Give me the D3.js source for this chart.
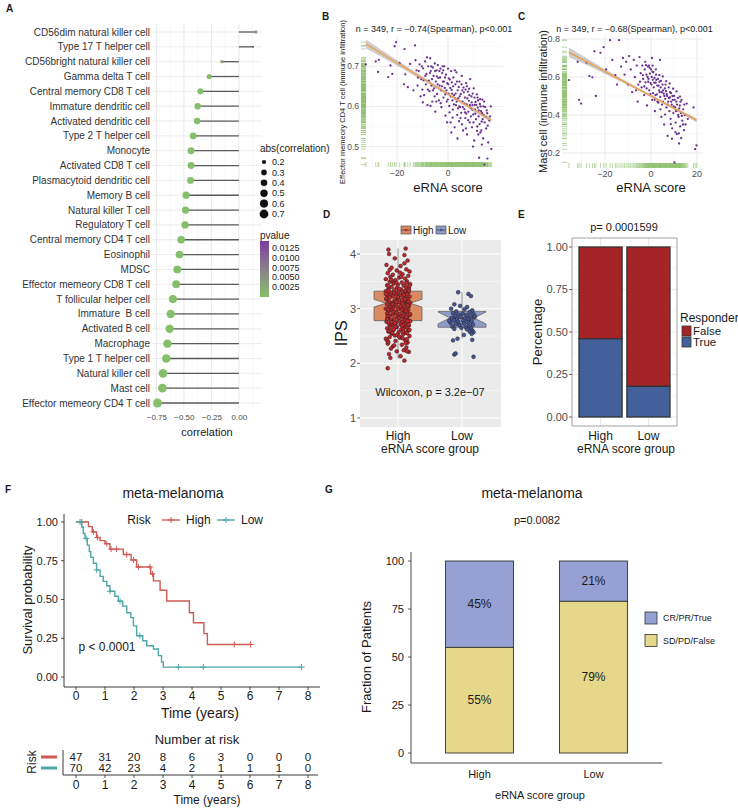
<!DOCTYPE html>
<html><head><meta charset="utf-8">
<script src="https://cdn.jsdelivr.net/npm/d3@7"></script>
<style>
body{margin:0;background:#fff}
svg{font-family:"Liberation Sans",Arial,Helvetica,sans-serif}
</style></head><body>
<svg id="fig" width="738" height="808"></svg>
<script>
// ---------------- data ----------------
var cells = ["CD56dim natural killer cell","Type 17 T helper cell","CD56bright natural killer cell","Gamma delta T cell",
  "Central memory CD8 T cell","Immature dendritic cell","Activated dendritic cell","Type 2 T helper cell","Monocyte",
  "Activated CD8 T cell","Plasmacytoid dendritic cell","Memory B cell","Natural killer T cell","Regulatory T cell",
  "Central memory CD4 T cell","Eosinophil","MDSC","Effector memeory CD8 T cell","T follicular helper cell",
  "Immature  B cell","Activated B cell","Macrophage","Type 1 T helper cell","Natural killer cell","Mast cell",
  "Effector memeory CD4 T cell"];
var corrValues = [0.155,0.13,-0.155,-0.27,-0.35,-0.375,-0.38,-0.415,-0.435,-0.435,-0.44,-0.48,-0.485,-0.49,
  -0.525,-0.54,-0.56,-0.57,-0.60,-0.62,-0.63,-0.65,-0.66,-0.69,-0.695,-0.74];
var pValues = [0.0038,0.0142,0.0036,0.0002,1e-6,1e-6,1e-6,1e-7,1e-7,1e-7,1e-7,1e-8,1e-8,1e-8,1e-9,1e-9,1e-9,
  1e-9,1e-10,1e-10,1e-10,1e-10,1e-10,1e-10,1e-10,1e-10];
var sizeLegend = [0.2,0.3,0.4,0.5,0.6,0.7];
var pLegend = [0.0025,0.005,0.0075,0.01,0.0125];

// panel B : eRNA score vs effector memory CD4 T cell
var bStats = "n = 349, r = \u22120.74(Spearman), p<0.001";
var bFit = [0.631, -0.003866];   // intercept, slope
var bPoints = [[-32.3,0.705],[-28.4,0.712],[-27.2,0.716],[-27.5,0.686],[-23.5,0.673],[-22.6,0.702],[-21.9,0.681],
[-21.0,0.750],[-20.4,0.760],[-19.0,0.708],[-17.1,0.743],[-16.8,0.680],[-17.3,0.655],[-15.8,0.648],[-14.9,0.706],
[-13.0,0.752],[-13.6,0.640],[-12.4,0.690],[-11.8,0.672],[-11.2,0.705],
[-10.5,0.668],[-10.1,0.642],[-9.8,0.695],[-9.4,0.628],[-9.0,0.712],[-8.7,0.655],[-8.5,0.681],[-8.1,0.603],[-7.8,0.700],
[-7.6,0.664],[-7.3,0.638],[-7.0,0.720],[-6.8,0.688],[-6.5,0.652],[-6.2,0.612],[-6.0,0.697],[-5.7,0.676],[-5.5,0.645],
[-5.2,0.707],[-5.0,0.587],[-4.8,0.662],[-4.5,0.690],[-4.3,0.631],[-4.0,0.703],[-3.8,0.671],[-3.6,0.615],[-3.3,0.652],
[-3.0,0.694],[-2.8,0.640],[-2.6,0.598],[-2.3,0.683],[-2.0,0.662],[-1.8,0.622],[-1.5,0.700],[-1.3,0.646],[-1.0,0.577],
[-0.8,0.679],[-0.5,0.612],[-0.3,0.658],[0.0,0.694],[0.2,0.632],[0.5,0.601],[0.7,0.667],[1.0,0.560],[1.2,0.688],
[1.4,0.641],[1.7,0.615],[1.9,0.592],[2.1,0.672],[2.4,0.628],[2.6,0.548],[2.9,0.655],[3.1,0.603],[3.3,0.685],[3.6,0.579],
[3.8,0.640],[4.0,0.620],[4.3,0.563],[4.5,0.662],[4.7,0.598],[5.0,0.631],[5.2,0.584],[5.4,0.676],[5.7,0.612],[5.9,0.540],
[6.1,0.647],[6.4,0.593],[6.6,0.622],[6.8,0.571],[7.1,0.658],[7.3,0.605],[7.5,0.530],[7.8,0.637],[8.0,0.587],[8.2,0.614],
[8.5,0.560],[8.7,0.668],[8.9,0.596],[9.2,0.625],[9.4,0.548],[9.6,0.603],[9.9,0.580],[10.1,0.645],[10.3,0.515],
[10.6,0.592],[10.8,0.611],[11.0,0.568],[11.3,0.630],[11.5,0.550],[11.7,0.597],[12.0,0.575],[12.2,0.472],[12.5,0.606],
[12.7,0.535],[13.0,0.588],[13.2,0.562],[13.5,0.617],[13.8,0.520],[14.0,0.578],[14.3,0.455],[14.6,0.598],[15.0,0.545],
[15.4,0.583],[15.8,0.510],[16.2,0.565],[17.0,0.494],
[-9.9,0.610],[-8.9,0.676],[-7.9,0.642],[-6.9,0.601],[-6.3,0.668],[-5.3,0.625],[-4.6,0.612],[-4.1,0.655],[-3.4,0.688],
[-2.9,0.608],[-2.4,0.650],[-1.9,0.690],[-1.6,0.662],[-1.1,0.630],[-0.6,0.640],[-0.1,0.617],[0.3,0.670],[0.6,0.585],
[1.1,0.625],[1.5,0.660],[1.8,0.572],[2.3,0.605],[2.7,0.690],[3.0,0.632],[3.4,0.612],[3.9,0.595],[4.2,0.648],[4.6,0.625],
[4.9,0.571],[5.3,0.655],[5.8,0.598],[6.2,0.635],[6.5,0.607],[6.9,0.642],[7.2,0.582],[7.6,0.620],[7.9,0.566],[8.3,0.644],
[8.6,0.603],[9.0,0.575],[9.3,0.610],[9.7,0.632],[10.0,0.560],[10.4,0.622],[10.7,0.582],[11.1,0.604],[11.4,0.539],
[11.8,0.615],[12.1,0.590],[12.4,0.556],[12.8,0.600],[13.1,0.540],[13.4,0.583],[13.9,0.600],[14.4,0.560],[14.8,0.574],
[15.2,0.590],[15.6,0.552],[16.5,0.575],[-12.8,0.715],[-12.0,0.652],[-11.5,0.688],[-10.8,0.625],[-10.3,0.700],
[-9.6,0.665],[-8.3,0.722],[-7.1,0.683],[-6.6,0.700],[-5.9,0.640],[-5.1,0.688],[-4.4,0.675],[-3.1,0.672],[-2.1,0.700],
[-1.2,0.672],[0.1,0.655],[0.9,0.646],[1.6,0.632],[2.0,0.650],[2.8,0.620],[3.5,0.662],[4.4,0.600],[5.6,0.640],
[6.7,0.585],[7.4,0.650],[8.4,0.628],[9.5,0.592],[10.5,0.604],[11.6,0.622],[12.6,0.618],[13.6,0.568],[14.2,0.612],
[9.8,0.500],[11.9,0.530],[13.3,0.505],[15.5,0.470],[16.8,0.600],[3.7,0.520],[5.5,0.555],[7.0,0.545],[-0.4,0.560],[1.3,0.535]];

// panel C : eRNA score vs mast cell
var cStats = "n = 349, r = \u22120.68(Spearman), p<0.001";
var cFit = [0.500, -0.00645];
var cPoints = [[-35.7,0.584],[-31.9,0.680],[-31.3,0.480],[-30.4,0.460],[-28.0,0.676],[-26.8,0.605],[-25.5,0.598],
[-24.6,0.735],[-24.0,0.500],[-22.0,0.727],[-20.6,0.757],[-19.5,0.640],[-17.8,0.794],[-16.8,0.690],[-15.5,0.610],
[-14.8,0.560],[-13.9,0.794],[-13.0,0.655],[-12.2,0.700],[-11.5,0.612],[-10.8,0.680],[-10.0,0.560],[-9.5,0.710],
[-8.8,0.640],[-8.2,0.520],[-7.5,0.690],[-7.0,0.600],[-6.2,0.660],[-5.8,0.470],[-5.0,0.705],
[-4.5,0.620],[-4.1,0.545],[-3.8,0.660],[-3.4,0.590],[-3.0,0.505],[-2.7,0.640],[-2.4,0.572],[-2.0,0.612],[-1.7,0.450],
[-1.4,0.655],[-1.1,0.590],[-0.8,0.530],[-0.5,0.618],[-0.2,0.568],[0.0,0.640],[0.3,0.600],[0.5,0.480],[0.8,0.585],
[1.0,0.625],[1.2,0.545],[1.5,0.595],[1.7,0.420],[2.0,0.570],[2.2,0.612],[2.5,0.508],[2.7,0.555],[3.0,0.590],[3.2,0.465],
[3.5,0.530],[3.7,0.575],[4.0,0.495],[4.2,0.545],[4.5,0.390],[4.7,0.520],[5.0,0.560],[5.2,0.470],[5.5,0.512],[5.7,0.350],
[6.0,0.540],[6.2,0.485],[6.5,0.525],[6.7,0.440],[7.0,0.500],[7.2,0.290],[7.5,0.470],[7.7,0.545],[8.0,0.420],[8.2,0.492],
[8.5,0.380],[8.7,0.515],[9.0,0.455],[9.2,0.330],[9.5,0.480],[9.7,0.410],[10.0,0.500],[10.2,0.150],[10.5,0.440],
[10.7,0.360],[11.0,0.470],[11.2,0.300],[11.5,0.425],[11.7,0.490],[12.0,0.390],[12.2,0.250],[12.5,0.450],[12.7,0.340],
[13.0,0.410],[13.3,0.480],[13.6,0.370],[14.0,0.430],[14.3,0.320],[14.7,0.400],[15.0,0.350],[15.5,0.460],[16.0,0.380],
[18.5,0.440],[19.2,0.220],[19.8,0.240],
[-4.8,0.575],[-3.6,0.610],[-2.9,0.550],[-2.2,0.662],[-1.9,0.540],[-1.2,0.575],[-0.6,0.648],[-0.3,0.510],[0.2,0.560],
[0.6,0.628],[0.9,0.515],[1.4,0.570],[1.9,0.505],[2.3,0.585],[2.8,0.470],[3.3,0.555],[3.8,0.520],[4.3,0.580],[4.8,0.455],
[5.3,0.530],[5.8,0.500],[6.3,0.560],[6.8,0.510],[7.3,0.455],[7.8,0.490],[8.3,0.520],[8.8,0.470],[9.3,0.500],[9.8,0.445],
[10.3,0.480],[10.8,0.420],[11.3,0.455],[11.8,0.400],[12.3,0.435],[12.8,0.470],[13.4,0.395],[13.9,0.350],[14.5,0.455],
[-1.5,0.600],[0.7,0.660],[2.1,0.640],[3.6,0.610],[5.1,0.603],[6.6,0.578],[8.1,0.566],[9.6,0.538],[11.1,0.524],
[12.6,0.497],[1.6,0.480],[4.1,0.430],[6.1,0.402],[8.6,0.352],[10.6,0.310],[12.1,0.303],[13.1,0.278],[9.1,0.275],
[-0.9,0.660],[-2.5,0.680],[0.4,0.700],[3.9,0.690],[-5.5,0.560],[-6.5,0.530]];

// panel D : IPS by eRNA score group
var groups = ["High","Low"];
var boxLow = [2.08,2.45], boxQ1 = [2.78,2.66], boxMed = [3.10,2.83], boxQ3 = [3.32,2.95], boxHigh = [4.10,3.30];
var notchLow = [3.03,2.72], notchHigh = [3.17,2.94];
var ipsHigh = [[-0.15,4.08],[0.12,4.10],[-0.14,4.00],[0.1,3.98],[-0.05,3.92],[0.15,3.88],[-0.18,3.80],[0.04,3.78],
[-0.1,3.75],[0.13,3.72],[-0.02,3.70],[0.18,3.68],[-0.16,3.65],[0.07,3.63],[-0.08,3.62],[0.16,3.60],[-0.12,3.58],
[0.02,3.57],[0.11,3.55],[-0.19,3.54],[-0.04,3.52],[0.14,3.50],[-0.13,3.49],[0.06,3.48],[-0.07,3.46],[0.19,3.45],
[0.0,3.44],[-0.17,3.43],[0.09,3.42],[-0.1,3.40],[0.13,3.39],[-0.02,3.38],[0.17,3.37],[-0.15,3.36],[0.05,3.35],
[-0.06,3.34],[0.11,3.33],[-0.19,3.32],[0.01,3.31],[0.16,3.30],[-0.11,3.29],[0.08,3.28],[-0.03,3.27],[0.14,3.26],
[-0.16,3.25],[0.03,3.24],[-0.08,3.23],[0.18,3.22],[-0.13,3.21],[0.1,3.20],[-0.01,3.19],[0.15,3.18],[-0.18,3.17],
[0.06,3.16],[-0.05,3.15],[0.12,3.14],[-0.14,3.13],[0.02,3.12],[0.19,3.11],[-0.09,3.10],[0.07,3.09],[-0.17,3.08],
[0.13,3.07],[-0.03,3.06],[0.17,3.05],[-0.12,3.04],[0.04,3.03],[-0.07,3.02],[0.1,3.01],[-0.19,3.00],[0.0,2.99],
[0.16,2.98],[-0.1,2.97],[0.08,2.96],[-0.15,2.95],[0.14,2.94],[-0.04,2.93],[0.11,2.92],[-0.17,2.91],[0.03,2.90],
[-0.08,2.89],[0.18,2.88],[-0.13,2.87],[0.06,2.86],[-0.01,2.85],[0.13,2.84],[-0.16,2.83],[0.09,2.82],[-0.06,2.81],
[0.15,2.80],[-0.11,2.79],[0.02,2.78],[0.19,2.77],[-0.18,2.76],[0.07,2.75],[-0.03,2.74],[0.12,2.73],[-0.14,2.72],
[0.04,2.71],[-0.09,2.70],[0.17,2.69],[-0.12,2.68],[0.1,2.67],[-0.02,2.66],[0.14,2.65],[-0.17,2.64],[0.05,2.62],
[-0.07,2.61],[0.16,2.60],[-0.15,2.58],[0.01,2.57],[0.12,2.56],[-0.1,2.54],[0.08,2.53],[-0.05,2.51],[0.18,2.50],
[-0.13,2.48],[0.03,2.47],[-0.19,2.45],[0.11,2.43],[-0.04,2.41],[0.15,2.38],[-0.16,2.36],[0.06,2.34],[-0.08,2.31],
[0.13,2.29],[-0.11,2.27],[0.09,2.24],[-0.02,2.22],[0.17,2.21],[-0.14,2.17],[0.04,2.13],[-0.12,2.10],[0.1,2.05],
[-0.16,1.91],[0.14,2.22],
[0.05,3.58],[-0.09,3.51],[0.13,3.47],[-0.15,3.41],[0.02,3.36],[0.17,3.33],[-0.06,3.29],[0.09,3.25],[-0.18,3.19],
[0.12,3.15],[-0.03,3.12],[0.15,3.06],[-0.12,3.03],[0.06,2.98],[-0.07,2.94],[0.19,2.90],[-0.16,2.86],[0.01,2.83],
[0.11,2.79],[-0.1,2.75],[0.16,2.71],[-0.04,2.67],[0.08,2.63],[-0.14,2.59],[0.14,2.55],[-0.01,2.52],[0.07,2.46],
[-0.17,2.42],[0.12,2.37],[-0.06,2.33],[0.03,3.66],[-0.13,3.71],[0.1,3.83],[-0.11,3.53],[0.18,3.42],[-0.19,3.27],
[0.0,3.21],[0.16,3.13],[-0.08,3.08],[0.04,3.04],[-0.15,2.99],[0.12,2.96],[-0.02,2.92],[0.09,2.88],[-0.17,2.81],
[0.15,2.77],[-0.05,2.73],[0.06,2.69],[-0.12,2.65],[0.18,2.61],[-0.09,2.56],[0.02,2.49],[0.14,2.44],[-0.15,2.39],
[0.08,2.58],[-0.03,3.47],[0.11,3.17],[-0.14,3.33],[0.13,2.85],[-0.07,2.62]];
var ipsLow = [[-0.06,3.30],[0.1,3.27],[0.14,3.23],[-0.12,3.08],[-0.03,3.05],[0.08,3.03],[-0.17,3.00],[0.04,2.99],
[0.16,2.97],[-0.09,2.95],[0.12,2.94],[-0.14,2.92],[0.01,2.91],[0.18,2.90],[-0.05,2.89],[0.07,2.88],[-0.11,2.87],
[0.13,2.86],[-0.02,2.85],[0.19,2.84],[-0.16,2.83],[0.05,2.82],[-0.08,2.81],[0.1,2.80],[-0.13,2.79],[0.02,2.78],
[0.15,2.77],[-0.06,2.76],[0.09,2.75],[-0.18,2.74],[0.03,2.73],[-0.1,2.72],[0.17,2.71],[-0.04,2.70],[0.11,2.69],
[-0.15,2.67],[0.06,2.66],[-0.01,2.65],[0.14,2.64],[-0.12,2.63],[0.08,2.62],[0.16,2.60],[0.12,2.58],[0.18,2.57],
[-0.07,2.45],[0.15,2.54],[0.03,2.52],[-0.14,2.42],[0.16,2.43],[-0.12,2.16],[-0.1,2.18],[0.18,2.12],[-0.2,2.78],[0.2,2.86]];
var dTest = "Wilcoxon, p = 3.2e\u221207";

// panel E : responder fraction
var respTrue = [0.46, 0.18];
var eTest = "p= 0.0001599";

// panel F : Kaplan-Meier meta-melanoma
var kmHighT = [0,0.43,0.56,0.71,0.83,1.0,1.17,1.63,1.9,2.09,2.58,2.67,2.9,3.13,3.91,4.05,4.41,4.53,6.02];
var kmHighS = [1,0.97,0.936,0.90,0.88,0.86,0.825,0.79,0.755,0.71,0.665,0.62,0.56,0.49,0.415,0.35,0.28,0.21,0.21];
var kmHighCens = [0.2,0.6,0.74,1.06,1.21,1.4,1.75,1.98,2.15,2.55,2.64,5.46,6.02];
var kmLowT = [0,0.2,0.25,0.31,0.39,0.46,0.51,0.6,0.71,0.83,0.94,1.06,1.17,1.34,1.46,1.61,1.75,1.89,1.98,2.09,2.3,
  2.44,2.67,2.84,2.95,3.01,7.78];
var kmLowS = [1,0.968,0.926,0.894,0.851,0.809,0.772,0.734,0.691,0.649,0.617,0.589,0.553,0.521,0.489,0.457,0.415,
  0.383,0.33,0.266,0.234,0.202,0.181,0.138,0.096,0.064,0.064];
var kmLowCens = [0.14,0.35,0.71,1.17,1.52,2.2,3.53,4.39,7.78];
var riskTimes = [0,1,2,3,4,5,6,7,8];
var riskHigh = [47,31,20,8,6,3,0,0,0];
var riskLow = [70,42,23,4,2,1,1,1,0];

// panel G : response fraction
var gResp = [45, 21];
var gNonResp = [55, 79];
var gTest = "p=0.0082";

// ---------------- helpers ----------------
var svg = d3.select("#fig");
var INK = "#1a1a1a", GREY = "#4d4d4d";

function txt(g, x, y, s, o) {
  o = o || {};
  var el = g.append("text").attr("x", x).attr("y", y).attr("dy", "0.35em")
    .attr("font-size", o.size || 10).attr("text-anchor", o.anchor || "middle")
    .attr("fill", o.fill || INK).text(s);
  if (o.bold) el.attr("font-weight", "bold");
  if (o.rot) el.attr("transform", "rotate(-90," + x + "," + y + ")");
  return el;
}
function minorOf(ticks, dom) {
  var step = ticks[1] - ticks[0], out = [];
  for (var v = ticks[0] - step * 2.5; v <= ticks[ticks.length - 1] + step * 2.5; v += step)
    if (v >= Math.min(dom[0], dom[1]) && v <= Math.max(dom[0], dom[1])) out.push(v);
  return out;
}

// panel letters
[["A",6,8],["B",322,16],["C",518,16],["D",323,214],["E",518,214],["F",5,489],["G",325,489]].forEach(function (l) {
  txt(svg, l[1], l[2], l[0], {size: 10, bold: true, anchor: "start"});
});

// ---------------- A : lollipop ----------------
(function () {
  var g = svg.append("g");
  var x = d3.scaleLinear().domain([-0.79, 0.21]).range([152, 262]);
  var y = d3.scalePoint().domain(cells).range([32, 403]);
  var maj = [-0.75, -0.5, -0.25, 0];
  var absv = corrValues.map(Math.abs);
  var norm = d3.scaleLinear().domain(d3.extent(absv)).range([0, 1]).clamp(true);
  var rad = d3.scaleLinear().domain([0, 1]).range([0.9, 4.5]);
  var sizeOf = function (a) { return rad(Math.sqrt(norm(a))); };
  var pCol = d3.scaleLinear().domain([0, 0.0142]).range(["#86bf6b", "#7a3b9e"]).interpolate(d3.interpolateLab);

  g.selectAll(".mn").data(minorOf(maj, x.domain())).enter().append("line")
    .attr("x1", x).attr("x2", x).attr("y1", 24).attr("y2", 410).attr("stroke", "#f2f2f2").attr("stroke-width", 0.6);
  g.selectAll(".mj").data(maj).enter().append("line")
    .attr("x1", x).attr("x2", x).attr("y1", 24).attr("y2", 410).attr("stroke", "#e5e5e5").attr("stroke-width", 0.8);
  g.selectAll(".hg").data(cells).enter().append("line")
    .attr("x1", 152).attr("x2", 262).attr("y1", y).attr("y2", y).attr("stroke", "#e8e8e8").attr("stroke-width", 0.8);

  g.selectAll(".seg").data(cells).enter().append("line")
    .attr("x1", x(0)).attr("x2", function (d, i) { return x(corrValues[i]); })
    .attr("y1", y).attr("y2", y).attr("stroke", "#5a5a5a").attr("stroke-width", 1.3);
  g.selectAll(".dot").data(cells).enter().append("circle")
    .attr("cx", function (d, i) { return x(corrValues[i]); }).attr("cy", y)
    .attr("r", function (d, i) { return sizeOf(absv[i]); })
    .attr("fill", function (d, i) { return pCol(pValues[i]); });

  g.selectAll(".lab").data(cells).enter().append("text")
    .attr("x", 150).attr("y", y).attr("dy", "0.35em").attr("text-anchor", "end")
    .attr("font-size", 10).attr("fill", "#333").style("white-space", "pre").text(function (d) { return d; });

  var ax = g.append("g").attr("transform", "translate(0,411)")
    .call(d3.axisBottom(x).tickValues(maj).tickSize(0).tickFormat(d3.format(".2f")));
  ax.select(".domain").remove();
  ax.selectAll("text").attr("font-size", 8).attr("fill", GREY).attr("font-family", null);
  txt(g, x(-0.29), 432, "correlation", {size: 11});

  // legends
  txt(g, 260, 148, "abs(correlation)", {size: 10, anchor: "start"});
  var ly = d3.scalePoint().domain(sizeLegend).range([162, 214]);
  g.selectAll(".ld").data(sizeLegend).enter().append("circle")
    .attr("cx", 264).attr("cy", ly).attr("r", sizeOf).attr("fill", "#111");
  g.selectAll(".lt").data(sizeLegend).enter().append("text")
    .attr("x", 272).attr("y", ly).attr("dy", "0.35em").attr("font-size", 9).attr("fill", INK)
    .text(function (d) { return d.toFixed(1); });

  txt(g, 260, 235, "pvalue", {size: 10, anchor: "start"});
  var pb = d3.scaleLinear().domain([0, 0.0142]).range([297, 241]);
  var grad = svg.append("defs").append("linearGradient").attr("id", "pgrad")
    .attr("x1", 0).attr("y1", 1).attr("x2", 0).attr("y2", 0);
  d3.range(0, 1.01, 0.1).forEach(function (f) {
    grad.append("stop").attr("offset", f).attr("stop-color", pCol(f * 0.0142));
  });
  g.append("rect").attr("x", 260).attr("y", pb(0.0142)).attr("width", 9).attr("height", pb(0) - pb(0.0142))
    .attr("fill", "url(#pgrad)");
  g.selectAll(".pt").data(pLegend).enter().append("text")
    .attr("x", 272).attr("y", pb).attr("dy", "0.35em").attr("font-size", 9).attr("fill", INK)
    .text(d3.format(".4f"));
})();

// ---------------- B & C : scatter with fit ----------------
function scatterPanel(pts, fit, cfg) {
  var g = svg.append("g");
  var x = d3.scaleLinear().domain(cfg.xDom).range([cfg.x0, cfg.x1]);
  var y = d3.scaleLinear().domain(cfg.yDom).range([cfg.y1, cfg.y0]);
  g.selectAll(".xm").data(minorOf(cfg.xTicks, cfg.xDom)).enter().append("line")
    .attr("x1", x).attr("x2", x).attr("y1", cfg.y0).attr("y2", cfg.y1).attr("stroke", "#f3f3f3").attr("stroke-width", 0.6);
  g.selectAll(".ym").data(minorOf(cfg.yTicks, cfg.yDom)).enter().append("line")
    .attr("y1", y).attr("y2", y).attr("x1", cfg.x0).attr("x2", cfg.x1).attr("stroke", "#f3f3f3").attr("stroke-width", 0.6);
  g.selectAll(".xg").data(cfg.xTicks).enter().append("line")
    .attr("x1", x).attr("x2", x).attr("y1", cfg.y0).attr("y2", cfg.y1).attr("stroke", "#e6e6e6").attr("stroke-width", 0.8);
  g.selectAll(".yg").data(cfg.yTicks).enter().append("line")
    .attr("y1", y).attr("y2", y).attr("x1", cfg.x0).attr("x2", cfg.x1).attr("stroke", "#e6e6e6").attr("stroke-width", 0.8);

  // rugs
  g.selectAll(".ry").data(pts).enter().append("line")
    .attr("x1", cfg.x0).attr("x2", cfg.x0 + 5).attr("y1", function (d) { return y(d[1]); })
    .attr("y2", function (d) { return y(d[1]); }).attr("stroke", "#8cc06a").attr("stroke-width", 0.6);
  g.selectAll(".rx").data(pts).enter().append("line")
    .attr("y1", cfg.y1).attr("y2", cfg.y1 - 5).attr("x1", function (d) { return x(d[0]); })
    .attr("x2", function (d) { return x(d[0]); }).attr("stroke", "#8cc06a").attr("stroke-width", 0.6);

  // fit band + line
  var xr = d3.extent(pts, function (d) { return d[0]; });
  var xm = d3.mean(pts, function (d) { return d[0]; });
  var xs = d3.range(xr[0], xr[1] + 0.01, (xr[1] - xr[0]) / 40);
  var yfit = function (v) { return fit[0] + fit[1] * v; };
  var hw = function (v) { return cfg.band[0] + cfg.band[1] * (v - xm) * (v - xm); };
  g.append("path").datum(xs).attr("fill", "#a6a6a6").attr("opacity", 0.55)
    .attr("d", d3.area().x(function (v) { return x(v); })
      .y0(function (v) { return y(yfit(v) - hw(v)); }).y1(function (v) { return y(yfit(v) + hw(v)); }));

  g.selectAll(".pt").data(pts).enter().append("circle")
    .attr("cx", function (d) { return x(d[0]); }).attr("cy", function (d) { return y(d[1]); })
    .attr("r", 1.15).attr("fill", "#6a2f8f");

  g.append("line").attr("x1", x(xr[0])).attr("x2", x(xr[1])).attr("y1", y(yfit(xr[0]))).attr("y2", y(yfit(xr[1])))
    .attr("stroke", "#e9a35c").attr("stroke-width", 1.6);

  g.selectAll(".xl").data(cfg.xTicks).enter().append("text")
    .attr("x", x).attr("y", cfg.y1 + 6).attr("dy", "0.35em").attr("text-anchor", "middle")
    .attr("font-size", cfg.tickSize).attr("fill", GREY).text(d3.format("d"));
  g.selectAll(".yl").data(cfg.yTicks).enter().append("text")
    .attr("x", cfg.x0 - 2).attr("y", y).attr("dy", "0.35em").attr("text-anchor", "end")
    .attr("font-size", cfg.tickSize).attr("fill", GREY).text(d3.format(".1f"));

  txt(g, (cfg.x0 + cfg.x1) / 2 + 2, 29, cfg.title, {size: 9});
  txt(g, x(0), 187, "eRNA score", {size: 13});
  txt(g, cfg.yTitleX, (cfg.y0 + cfg.y1) / 2, cfg.yTitle, {size: cfg.yTitleSize, rot: true});
}

scatterPanel(bPoints, bFit, {
  xDom: [-34.2, 21.6], yDom: [0.449, 0.773], x0: 361, x1: 503, y0: 37, y1: 167,
  xTicks: [-20, 0], yTicks: [0.5, 0.6, 0.7], band: [0.004, 0.0000062], tickSize: 8.5,
  title: bStats, yTitle: "Effector memeory CD4 T cell (immune infiltration)", yTitleX: 342, yTitleSize: 7.5
});
scatterPanel(cPoints, cFit, {
  xDom: [-38.7, 22.6], yDom: [0.121, 0.821], x0: 562, x1: 703, y0: 35, y1: 168,
  xTicks: [-20, 0, 20], yTicks: [0.2, 0.4, 0.6, 0.8], band: [0.006, 0.000014], tickSize: 9,
  title: cStats, yTitle: "Mast cell (immune infiltration)", yTitleX: 543, yTitleSize: 11
});

// ---------------- D : notched boxplot ----------------
(function () {
  var g = svg.append("g");
  var x = d3.scalePoint().domain(groups).range([398, 462]);
  var y = d3.scaleLinear().domain([0.835, 4.256]).range([427, 240]);
  var step = x.step(), bw = step * 0.75;
  var fills = ["#d98a60", "#8e9cc6"], dots = ["#c1282d", "#40599c"];
  g.append("rect").attr("x", 360).attr("y", 240).attr("width", 141).attr("height", 187).attr("fill", "#ebebeb");
  g.selectAll(".ym").data([1.5, 2.5, 3.5]).enter().append("line")
    .attr("x1", 360).attr("x2", 501).attr("y1", y).attr("y2", y).attr("stroke", "#fff").attr("stroke-width", 0.5);
  g.selectAll(".yg").data([1, 2, 3, 4]).enter().append("line")
    .attr("x1", 360).attr("x2", 501).attr("y1", y).attr("y2", y).attr("stroke", "#fff").attr("stroke-width", 1);
  g.selectAll(".xg").data(groups).enter().append("line")
    .attr("x1", x).attr("x2", x).attr("y1", 240).attr("y2", 427).attr("stroke", "#fff").attr("stroke-width", 1);

  groups.forEach(function (grp, i) {
    var cx = x(grp), L = cx - bw / 2, R = cx + bw / 2, ind = bw / 4;
    g.append("line").attr("x1", cx).attr("x2", cx).attr("y1", y(boxHigh[i])).attr("y2", y(boxLow[i]))
      .attr("stroke", "#777").attr("stroke-width", 0.8);
    var poly = [[L, y(boxQ3[i])], [R, y(boxQ3[i])], [R, y(notchHigh[i])], [R - ind, y(boxMed[i])], [R, y(notchLow[i])],
      [R, y(boxQ1[i])], [L, y(boxQ1[i])], [L, y(notchLow[i])], [L + ind, y(boxMed[i])], [L, y(notchHigh[i])]];
    g.append("polygon").attr("points", poly.map(function (p) { return p.join(","); }).join(" "))
      .attr("fill", fills[i]).attr("stroke", "#666").attr("stroke-width", 0.8);
    g.append("line").attr("x1", L + ind).attr("x2", R - ind).attr("y1", y(boxMed[i])).attr("y2", y(boxMed[i]))
      .attr("stroke", "#555").attr("stroke-width", 1.2);
  });
  [ipsHigh, ipsLow].forEach(function (arr, i) {
    g.selectAll(".j" + i).data(arr).enter().append("circle")
      .attr("cx", function (d) { return x(groups[i]) + d[0] * step; }).attr("cy", function (d) { return y(d[1]); })
      .attr("r", 1.9).attr("fill", dots[i]).attr("stroke", "#2a1a1a").attr("stroke-width", 0.5);
  });

  g.selectAll(".tk").data([1, 2, 3, 4]).enter().append("line")
    .attr("x1", 357).attr("x2", 360).attr("y1", y).attr("y2", y).attr("stroke", "#333").attr("stroke-width", 0.7);
  g.selectAll(".yl").data([1, 2, 3, 4]).enter().append("text")
    .attr("x", 356).attr("y", y).attr("dy", "0.35em").attr("text-anchor", "end")
    .attr("font-size", 11).attr("fill", GREY).text(function (d) { return d; });
  txt(g, 341, y(2.55), "IPS", {size: 16, rot: true});
  txt(g, 430, 392, dTest, {size: 11});
  groups.forEach(function (grp) { txt(g, x(grp), 436, grp, {size: 12}); });
  txt(g, 430, 449, "eRNA score group", {size: 12});

  // legend
  [[401, "High"], [436, "Low"]].forEach(function (l, i) {
    g.append("rect").attr("x", l[0]).attr("y", 226).attr("width", 10).attr("height", 8)
      .attr("fill", fills[i]).attr("stroke", "#555").attr("stroke-width", 0.7);
    g.append("line").attr("x1", l[0]).attr("x2", l[0] + 10).attr("y1", 230).attr("y2", 230).attr("stroke", "#555");
    g.append("circle").attr("cx", l[0] + 5).attr("cy", 230).attr("r", 1.3).attr("fill", dots[i]);
    txt(g, l[0] + 12, 230, l[1], {size: 10, anchor: "start"});
  });
})();

// ---------------- E : stacked percentage bars ----------------
(function () {
  var g = svg.append("g");
  var x = d3.scaleBand().domain(groups).range([579, 670]).paddingInner(0.1);
  var y = d3.scaleLinear().domain([0, 1]).range([417, 247]);
  g.selectAll(".ym").data([0.125, 0.375, 0.625, 0.875]).enter().append("line")
    .attr("x1", 572).attr("x2", 677).attr("y1", y).attr("y2", y).attr("stroke", "#f2f2f2").attr("stroke-width", 0.6);
  g.selectAll(".yg").data([0, 0.25, 0.5, 0.75, 1]).enter().append("line")
    .attr("x1", 572).attr("x2", 677).attr("y1", y).attr("y2", y).attr("stroke", "#e3e3e3").attr("stroke-width", 0.8);
  g.selectAll(".xg").data(groups).enter().append("line")
    .attr("x1", function (d) { return x(d) + x.bandwidth() / 2; }).attr("x2", function (d) { return x(d) + x.bandwidth() / 2; })
    .attr("y1", 238).attr("y2", 426).attr("stroke", "#e3e3e3").attr("stroke-width", 0.8);
  g.append("rect").attr("x", 572).attr("y", 238).attr("width", 105).attr("height", 188)
    .attr("fill", "none").attr("stroke", "#8a8a8a").attr("stroke-width", 0.8);

  groups.forEach(function (grp, i) {
    g.append("rect").attr("x", x(grp)).attr("width", x.bandwidth()).attr("y", y(1)).attr("height", y(respTrue[i]) - y(1))
      .attr("fill", "#a52427").attr("stroke", "#333").attr("stroke-width", 1.3);
    g.append("rect").attr("x", x(grp)).attr("width", x.bandwidth()).attr("y", y(respTrue[i])).attr("height", y(0) - y(respTrue[i]))
      .attr("fill", "#44609b").attr("stroke", "#333").attr("stroke-width", 1.3);
    txt(g, x(grp) + x.bandwidth() / 2, 436, grp, {size: 12});
  });
  g.selectAll(".tk").data([0, 0.25, 0.5, 0.75, 1]).enter().append("line")
    .attr("x1", 569).attr("x2", 572).attr("y1", y).attr("y2", y).attr("stroke", "#333").attr("stroke-width", 0.7);
  g.selectAll(".yl").data([0, 0.25, 0.5, 0.75, 1]).enter().append("text")
    .attr("x", 568).attr("y", y).attr("dy", "0.35em").attr("text-anchor", "end")
    .attr("font-size", 11).attr("fill", GREY).text(d3.format(".2f"));
  txt(g, 537, y(0.5), "Percentage", {size: 13, rot: true});
  txt(g, 624, 227, eTest, {size: 11});
  txt(g, 626, 449, "eRNA score group", {size: 12});
  txt(g, 680, 318, "Responder", {size: 12, anchor: "start"});
  [["False", "#a52427"], ["True", "#44609b"]].forEach(function (l, i) {
    g.append("rect").attr("x", 682).attr("y", 326 + i * 11).attr("width", 9).attr("height", 10)
      .attr("fill", l[1]).attr("stroke", "#333").attr("stroke-width", 0.8);
    txt(g, 693, 331 + i * 11, l[0], {size: 11.5, anchor: "start"});
  });
})();

// ---------------- F : Kaplan-Meier + risk table ----------------
(function () {
  var g = svg.append("g");
  var x = d3.scaleLinear().domain([0, 8]).range([76, 308]);
  var y = d3.scaleLinear().domain([0, 1]).range([677, 522]);
  var cols = ["#cd5a53", "#4ea6a6"];
  txt(g, 173, 493, "meta-melanoma", {size: 14});

  var stepLine = d3.line().x(function (d) { return x(d[0]); }).y(function (d) { return y(d[1]); }).curve(d3.curveStepAfter);
  var survAt = function (T, S, t) { var s = S[0]; T.forEach(function (tt, k) { if (tt <= t) s = S[k]; }); return s; };
  [[kmHighT, kmHighS, kmHighCens], [kmLowT, kmLowS, kmLowCens]].forEach(function (c, i) {
    g.append("path").datum(d3.zip(c[0], c[1])).attr("d", stepLine)
      .attr("fill", "none").attr("stroke", cols[i]).attr("stroke-width", 1.4);
    c[2].forEach(function (t) {
      var px = x(t), py = y(survAt(c[0], c[1], t));
      g.append("path").attr("d", "M" + (px - 3) + "," + py + "h6M" + px + "," + (py - 3) + "v6")
        .attr("stroke", cols[i]).attr("stroke-width", 1);
    });
  });

  g.append("line").attr("x1", 64).attr("x2", 64).attr("y1", 514).attr("y2", 687).attr("stroke", "#222").attr("stroke-width", 0.9);
  g.append("line").attr("x1", 64).attr("x2", 320).attr("y1", 687).attr("y2", 687).attr("stroke", "#222").attr("stroke-width", 0.9);
  var yt = [0, 0.25, 0.5, 0.75, 1];
  g.selectAll(".ytk").data(yt).enter().append("line").attr("x1", 61).attr("x2", 64)
    .attr("y1", y).attr("y2", y).attr("stroke", "#222").attr("stroke-width", 0.8);
  g.selectAll(".ylb").data(yt).enter().append("text").attr("x", 58).attr("y", y).attr("dy", "0.35em")
    .attr("text-anchor", "end").attr("font-size", 11).attr("fill", INK).text(d3.format(".2f"));
  g.selectAll(".xtk").data(riskTimes).enter().append("line").attr("x1", x).attr("x2", x)
    .attr("y1", 687).attr("y2", 690).attr("stroke", "#222").attr("stroke-width", 0.8);
  g.selectAll(".xlb").data(riskTimes).enter().append("text").attr("x", x).attr("y", 696).attr("dy", "0.35em")
    .attr("text-anchor", "middle").attr("font-size", 12).attr("fill", INK).text(function (d) { return d; });
  txt(g, 200, 713, "Time (years)", {size: 14});
  txt(g, 27, 600, "Survival probability", {size: 13, rot: true});
  txt(g, 107, 647, "p < 0.0001", {size: 12});

  // legend
  txt(g, 139, 520, "Risk", {size: 12});
  [[162, "High"], [217, "Low"]].forEach(function (l, i) {
    g.append("line").attr("x1", l[0]).attr("x2", l[0] + 18).attr("y1", 520).attr("y2", 520).attr("stroke", cols[i]).attr("stroke-width", 1.4);
    g.append("path").attr("d", "M" + (l[0] + 6) + ",520h6M" + (l[0] + 9) + ",517v6").attr("stroke", cols[i]);
    txt(g, l[0] + 24, 520, l[1], {size: 12, anchor: "start"});
  });

  // risk table
  txt(g, 197, 739, "Number at risk", {size: 13});
  [riskHigh, riskLow].forEach(function (row, i) {
    g.selectAll(".rk" + i).data(row).enter().append("text")
      .attr("x", function (d, k) { return x(riskTimes[k]); }).attr("y", 757 + i * 11).attr("dy", "0.35em")
      .attr("text-anchor", "middle").attr("font-size", 11.5).attr("fill", INK).text(function (d) { return d; });
    g.append("line").attr("x1", 41).attr("x2", 57).attr("y1", 757 + i * 11).attr("y2", 757 + i * 11)
      .attr("stroke", cols[i]).attr("stroke-width", 3);
  });
  txt(g, 32, 762, "Risk", {size: 12, rot: true});
  g.append("line").attr("x1", 63).attr("x2", 63).attr("y1", 750).attr("y2", 775).attr("stroke", "#222").attr("stroke-width", 0.9);
  g.append("line").attr("x1", 63).attr("x2", 318).attr("y1", 775).attr("y2", 775).attr("stroke", "#222").attr("stroke-width", 0.9);
  g.selectAll(".rtk").data(riskTimes).enter().append("line").attr("x1", x).attr("x2", x)
    .attr("y1", 775).attr("y2", 778).attr("stroke", "#222").attr("stroke-width", 0.8);
  g.selectAll(".rlb").data(riskTimes).enter().append("text").attr("x", x).attr("y", 785).attr("dy", "0.35em")
    .attr("text-anchor", "middle").attr("font-size", 12).attr("fill", INK).text(function (d) { return d; });
  txt(g, 207, 800, "Time (years)", {size: 12});
})();

// ---------------- G : fraction of patients ----------------
(function () {
  var g = svg.append("g");
  var x = d3.scaleBand().domain(groups).range([411, 662]).paddingInner(0.4035).paddingOuter(0.3026);
  var y = d3.scaleLinear().domain([0, 100]).range([753, 561]);
  txt(g, 532, 493, "meta-melanoma", {size: 14});
  txt(g, 537, 520, gTest, {size: 11});
  groups.forEach(function (grp, i) {
    g.append("rect").attr("x", x(grp)).attr("width", x.bandwidth()).attr("y", y(100)).attr("height", y(gNonResp[i]) - y(100))
      .attr("fill", "#97a0d2").attr("stroke", "#333").attr("stroke-width", 0.9);
    g.append("rect").attr("x", x(grp)).attr("width", x.bandwidth()).attr("y", y(gNonResp[i])).attr("height", y(0) - y(gNonResp[i]))
      .attr("fill", "#e5d88b").attr("stroke", "#333").attr("stroke-width", 0.9);
    var cx = x(grp) + x.bandwidth() / 2;
    txt(g, cx, y(gNonResp[i] + gResp[i] / 2), gResp[i] + "%", {size: 12});
    txt(g, cx, y(gNonResp[i] / 2), gNonResp[i] + "%", {size: 12});
    txt(g, cx, 774, grp, {size: 11});
  });
  g.append("line").attr("x1", 411).attr("x2", 411).attr("y1", 552).attr("y2", 763).attr("stroke", "#333").attr("stroke-width", 0.9);
  g.append("line").attr("x1", 411).attr("x2", 662).attr("y1", 763).attr("y2", 763).attr("stroke", "#333").attr("stroke-width", 0.9);
  var yt = [0, 25, 50, 75, 100];
  g.selectAll(".tk").data(yt).enter().append("line").attr("x1", 408).attr("x2", 411)
    .attr("y1", y).attr("y2", y).attr("stroke", "#333").attr("stroke-width", 0.8);
  g.selectAll(".yl").data(yt).enter().append("text").attr("x", 404).attr("y", y).attr("dy", "0.35em")
    .attr("text-anchor", "end").attr("font-size", 11).attr("fill", INK).text(function (d) { return d; });
  txt(g, 366, y(50), "Fraction of Patients", {size: 13, rot: true});
  txt(g, 540, 795, "eRNA score group", {size: 11});
  [["CR/PR/True", "#97a0d2"], ["SD/PD/False", "#e5d88b"]].forEach(function (l, i) {
    g.append("rect").attr("x", 645).attr("y", 612 + i * 22.5).attr("width", 12).attr("height", 12)
      .attr("fill", l[1]).attr("stroke", "#333").attr("stroke-width", 0.8);
    txt(g, 663, 618 + i * 23, l[0], {size: 9, anchor: "start"});
  });
})();
</script>
</body></html>
